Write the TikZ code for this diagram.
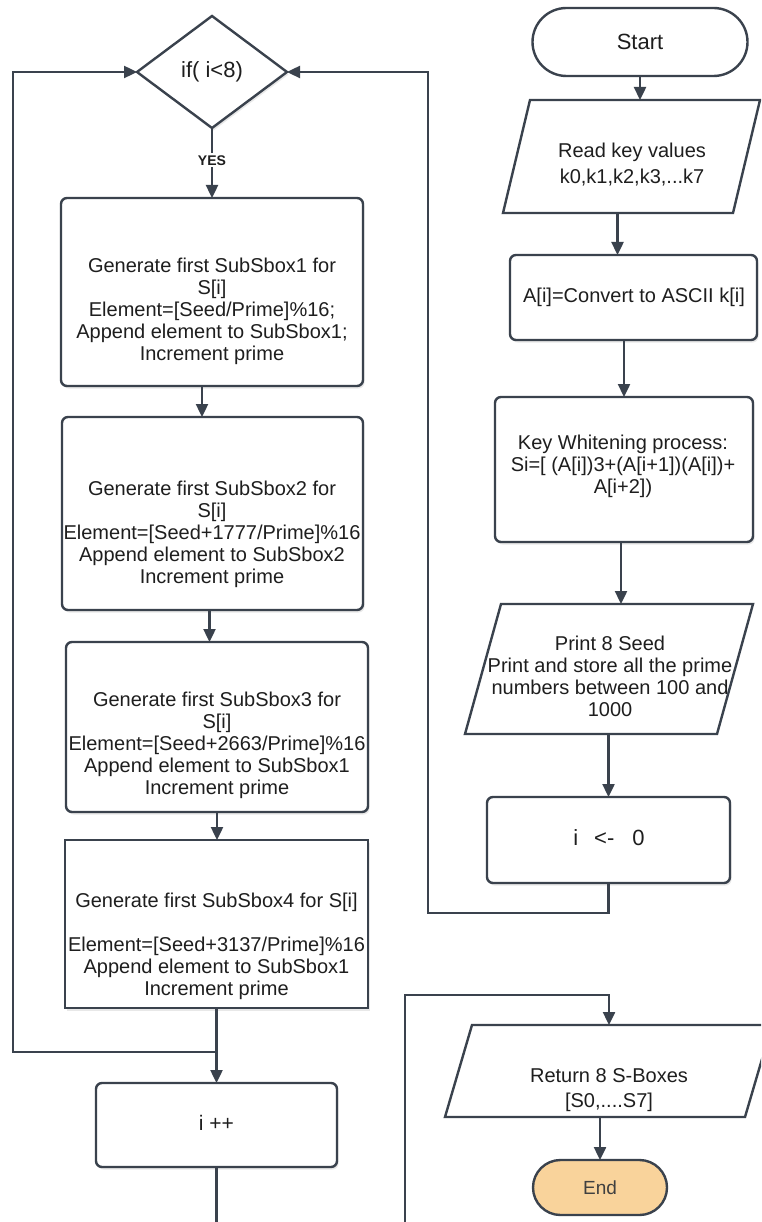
\documentclass[tikz,border=0pt]{standalone}
\usepackage{fontspec}
\setmainfont{Liberation Sans}
\usetikzlibrary{shapes.geometric,arrows.meta,shadows}
\definecolor{lnc}{HTML}{3A424D}
\definecolor{txc}{HTML}{1E1E1E}
\definecolor{endfill}{HTML}{F9D39B}
\tikzset{
  shd/.style={drop shadow={opacity=0.18,shadow xshift=1.5pt,shadow yshift=-2.5pt}},
  box/.style={draw=lnc, line width=2.4pt, fill=white, rounded corners=6pt, inner sep=0pt, outer sep=0pt, shd},
  sqbox/.style={draw=lnc, line width=2.4pt, fill=white, inner sep=0pt, outer sep=0pt, shd},
  ghost/.style={draw=none, inner sep=0pt, outer sep=0pt},
  txt/.style={text=txc, align=center, font=\fontsize{20}{22}\selectfont, inner sep=0pt},
  arr/.style={draw=lnc, line width=2.4pt, -{Triangle[length=13pt,width=12pt]}},
  para/.style={draw=lnc, line width=2.4pt, fill=white, line join=miter},
  yes/.style={fill=white, text=txc, font=\bfseries\fontsize{14}{14}\selectfont, inner sep=2pt}
}
\newcommand{\paradraw}[2]{\draw[para] ([xshift=-#2/2]#1.south west) -- ([xshift=-#2/2]#1.south east) -- ([xshift=#2/2]#1.north east) -- ([xshift=#2/2]#1.north west) -- cycle;}
\begin{document}
\begin{tikzpicture}[x=1pt,y=-1pt]
\useasboundingbox (0,0) rectangle (761,1222);
\clip (0,0) rectangle (761,1222);
\fill[white] (0,0) rectangle (761,1222);

% left column
\node[diamond, draw=lnc, line width=2.4pt, fill=white, inner sep=0pt, outer sep=0pt,
      minimum width=150, minimum height=112, shd, text=txc, font=\fontsize{22}{22}\selectfont] (dia) at (212,72) {if( i<8)};
\node[box, minimum width=302, minimum height=188] (box1) at (212,292) {};
\node[txt] (t1) at (212,311) {Generate first SubSbox1 for\\S[i]\\Element=[Seed/Prime]\%16;\\Append element to SubSbox1;\\Increment prime};
\node[box, minimum width=301, minimum height=193] (box2) at (212.5,513.5) {};
\node[txt] (t2) at (212,534) {Generate first SubSbox2 for\\S[i]\\Element=[Seed+1777/Prime]\%16\\Append element to SubSbox2\\Increment prime};
\node[box, minimum width=302, minimum height=170] (box3) at (217,727) {};
\node[txt] (t3) at (217,745) {Generate first SubSbox3 for\\S[i]\\Element=[Seed+2663/Prime]\%16\\Append element to SubSbox1\\Increment prime};
\node[sqbox, minimum width=303, minimum height=168] (box4) at (216.5,924) {};
\node[txt] (t4) at (216.5,946) {Generate first SubSbox4 for S[i]\\[22pt]Element=[Seed+3137/Prime]\%16\\Append element to SubSbox1\\Increment prime};
\node[box, minimum width=241, minimum height=84] (iplus) at (216.5,1125) {};
\node[txt, font=\fontsize{21}{22}\selectfont] (tip) at (216.5,1123) {i ++};

% right column
\node[draw=lnc, line width=2.4pt, fill=white, rounded corners=34pt, minimum width=215, minimum height=68,
      inner sep=0pt, outer sep=0pt, text=txc, font=\fontsize{22}{22}\selectfont] (stnode) at (640,42) {Start};
\node[ghost, minimum width=230, minimum height=113] (read) at (631.5,156.5) {};
\paradraw{read}{27}
\node[txt, font=\fontsize{20}{26}\selectfont] (tread) at (632,165) {Read key values\\k0,k1,k2,k3,...k7};
\node[box, minimum width=247, minimum height=85] (anode) at (633.5,297.5) {};
\node[txt] (ta) at (634,297) {A[i]=Convert to ASCII k[i]};
\node[box, minimum width=258, minimum height=145] (key) at (624,469.5) {};
\node[txt] (tkey) at (623,466.5) {Key Whitening process:\\Si=[ (A[i])3+(A[i+1])(A[i])+\\A[i+2])};
\node[ghost, minimum width=252, minimum height=130] (print) at (609,669) {};
\paradraw{print}{36}
\node[txt] (tprint) at (610,676.5) {Print 8 Seed\\Print and store all the prime\\numbers between 100 and\\1000};
\node[box, minimum width=243, minimum height=86] (izero) at (608.5,840) {};
\node[txt, font=\fontsize{22}{22}\selectfont] (tizero) at (609,838) {i\hspace{16pt}<-\hspace{18pt}0};
\node[ghost, minimum width=300, minimum height=92] (ret) at (608.5,1071) {};
\paradraw{ret}{27}
\node[txt, font=\fontsize{20}{25}\selectfont] (tret) at (609,1090.5) {Return 8 S-Boxes\\{}[S0,....S7]};
\node[draw=lnc, line width=2.4pt, fill=endfill, rounded corners=27.5pt, minimum width=134, minimum height=55,
      inner sep=0pt, outer sep=0pt, text=black!75, font=\fontsize{19}{19}\selectfont] (endnode) at (600,1187.5) {End};

% connectors
\draw[arr] (stnode.south) -- (stnode.south |- read.north);
\draw[arr] ([xshift=-14]read.south) -- ([xshift=-14]read.south |- anode.north);
\draw[arr] (key.north |- anode.south) -- (key.north);
\draw[arr] ([xshift=-3]key.south) -- ([xshift=-3]key.south |- print.north);
\draw[arr] (izero.north |- print.south) -- (izero.north);
\coordinate (c1) at (428,913);
\draw[arr] (izero.south) |- (c1) |- (dia.east);
\draw[arr] (dia.south) -- node[yes, pos=0.46] (yeslbl) {YES} (box1.north);
\draw[arr] ([xshift=-10]box1.south) -- ([xshift=-10]box1.south |- box2.north);
\draw[arr] ([xshift=-3]box2.south) -- ([xshift=-3]box2.south |- box3.north);
\draw[arr] (box3.south) -- (box3.south |- box4.north);
\draw[arr] (box4.south) -- (iplus.north);
\coordinate (j) at (216.5,1052);
\coordinate (c2) at (13,1052);
\draw[arr] (j) -- (c2) |- (dia.west);
\coordinate (b1) at (216.5,1250);
\coordinate (b2) at (405,995);
\coordinate (b3) at (609,995);
\draw[arr] (iplus.south) -- (b1) -| (b2) -- (b3) -- (b3 |- ret.north);
\draw[arr] (endnode.north |- ret.south) -- (endnode.north);
\end{tikzpicture}
\end{document}
